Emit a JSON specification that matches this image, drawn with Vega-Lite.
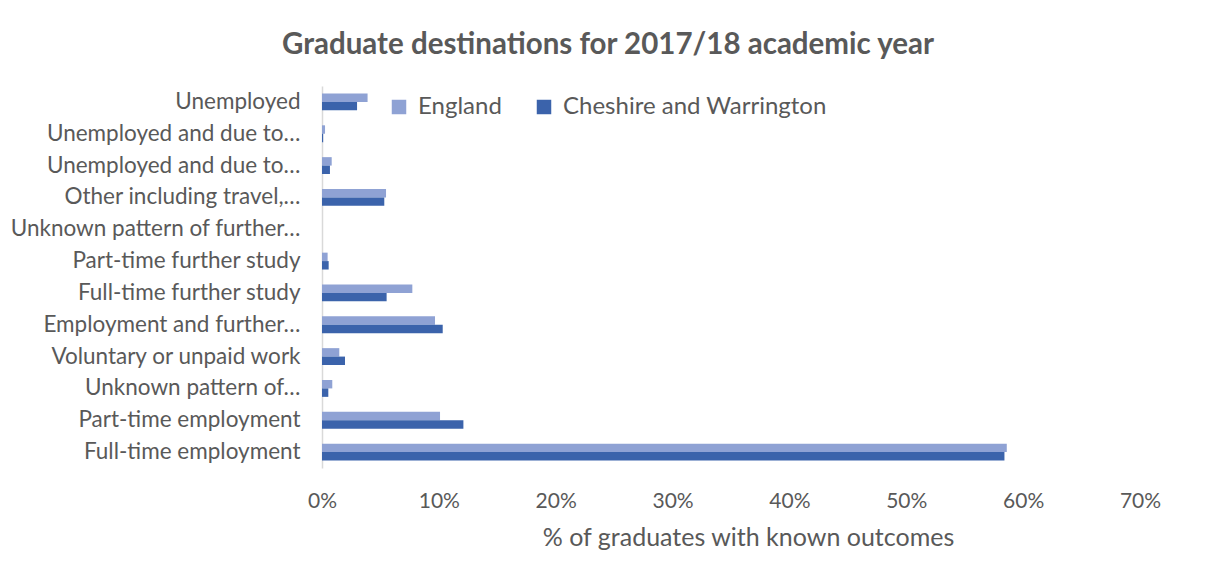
{
  "$schema": "https://vega.github.io/schema/vega-lite/v6.json",
  "autosize": {"type": "none"},
  "width": 818,
  "height": 382,
  "padding": {"left": 322, "top": 86, "right": 68, "bottom": 104},
  "background": "white",
  "config": {
    "font": "Lato",
    "view": {"stroke": null},
    "axis": {"labelColor": "#595959", "titleColor": "#595959", "labelFont": "Lato", "titleFont": "Lato"},
    "legend": {"labelColor": "#595959", "labelFont": "Lato"}
  },
  "title": {
    "text": "Graduate destinations for 2017/18 academic year",
    "fontSize": 29.5,
    "fontWeight": "bold",
    "color": "#595959",
    "font": "Lato",
    "anchor": "middle",
    "frame": "group",
    "dx": -123,
    "offset": 26
  },
  "data": {
    "values": [
      {"cat": "Unemployed|1", "series": "England", "pct": 0.039},
      {"cat": "Unemployed|1", "series": "Cheshire and Warrington", "pct": 0.030},
      {"cat": "Unemployed and due to…|2", "series": "England", "pct": 0.0026},
      {"cat": "Unemployed and due to…|2", "series": "Cheshire and Warrington", "pct": 0.001},
      {"cat": "Unemployed and due to…|3", "series": "England", "pct": 0.0083},
      {"cat": "Unemployed and due to…|3", "series": "Cheshire and Warrington", "pct": 0.0068},
      {"cat": "Other including travel,…|4", "series": "England", "pct": 0.0548},
      {"cat": "Other including travel,…|4", "series": "Cheshire and Warrington", "pct": 0.0533},
      {"cat": "Unknown pattern of further…|5", "series": "England", "pct": 0},
      {"cat": "Unknown pattern of further…|5", "series": "Cheshire and Warrington", "pct": 0},
      {"cat": "Part-time further study|6", "series": "England", "pct": 0.0048},
      {"cat": "Part-time further study|6", "series": "Cheshire and Warrington", "pct": 0.0057},
      {"cat": "Full-time further study|7", "series": "England", "pct": 0.0773},
      {"cat": "Full-time further study|7", "series": "Cheshire and Warrington", "pct": 0.0553},
      {"cat": "Employment and further…|8", "series": "England", "pct": 0.0967},
      {"cat": "Employment and further…|8", "series": "Cheshire and Warrington", "pct": 0.1033},
      {"cat": "Voluntary or unpaid work|9", "series": "England", "pct": 0.0148},
      {"cat": "Voluntary or unpaid work|9", "series": "Cheshire and Warrington", "pct": 0.0197},
      {"cat": "Unknown pattern of…|10", "series": "England", "pct": 0.0088},
      {"cat": "Unknown pattern of…|10", "series": "Cheshire and Warrington", "pct": 0.0054},
      {"cat": "Part-time employment|11", "series": "England", "pct": 0.101},
      {"cat": "Part-time employment|11", "series": "Cheshire and Warrington", "pct": 0.121},
      {"cat": "Full-time employment|12", "series": "England", "pct": 0.586},
      {"cat": "Full-time employment|12", "series": "Cheshire and Warrington", "pct": 0.584}
    ]
  },
  "mark": {"type": "bar"},
  "encoding": {
    "y": {
      "field": "cat",
      "type": "nominal",
      "sort": null,
      "scale": {"paddingInner": 0.47, "paddingOuter": 0.235},
      "axis": {
        "title": null,
        "labelExpr": "split(datum.label, '|')[0]",
        "labelFontSize": 22.5,
        "labelPadding": 22,
        "labelLimit": 400,
        "ticks": false,
        "domainColor": "#d9d9d9",
        "domainWidth": 1.5
      }
    },
    "yOffset": {
      "field": "series",
      "type": "nominal",
      "sort": ["England", "Cheshire and Warrington"],
      "scale": {"paddingInner": 0, "paddingOuter": 0}
    },
    "x": {
      "field": "pct",
      "type": "quantitative",
      "scale": {"domain": [0, 0.7]},
      "axis": {
        "format": ".0%",
        "values": [0, 0.1, 0.2, 0.3, 0.4, 0.5, 0.6, 0.7],
        "grid": false,
        "domain": false,
        "ticks": false,
        "labelFlush": false,
        "labelFontSize": 21,
        "labelPadding": 22,
        "title": "% of graduates with known outcomes",
        "titleFontSize": 25,
        "titleFontWeight": "normal",
        "titleX": 426,
        "titleY": 77,
        "titleBaseline": "alphabetic"
      }
    },
    "color": {
      "field": "series",
      "type": "nominal",
      "sort": ["England", "Cheshire and Warrington"],
      "scale": {"domain": ["England", "Cheshire and Warrington"], "range": ["#8fa2d4", "#3b63ab"]},
      "legend": {
        "title": null,
        "orient": "none",
        "direction": "horizontal",
        "legendX": 65,
        "legendY": 9,
        "symbolType": "square",
        "symbolSize": 210,
        "symbolStrokeWidth": 0,
        "labelFontSize": 24,
        "labelOffset": 7,
        "columnPadding": 30,
        "labelLimit": 400
      }
    }
  }
}
